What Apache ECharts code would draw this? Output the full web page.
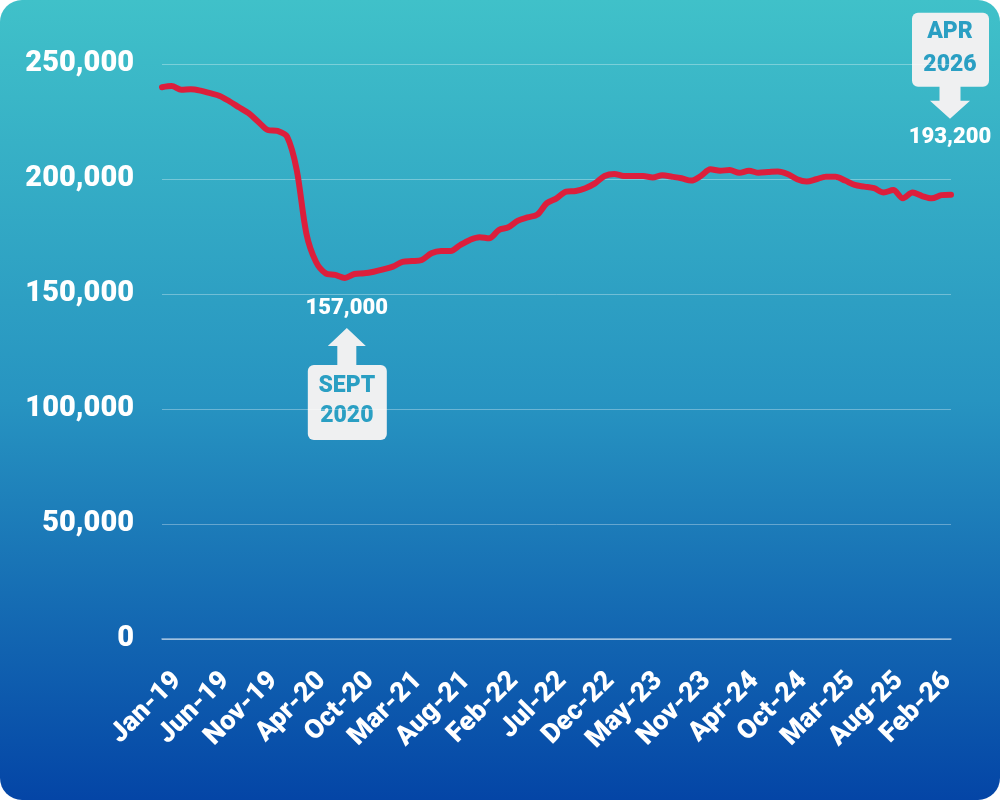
<!DOCTYPE html>
<html>
<head>
<meta charset="utf-8">
<script src="https://cdn.jsdelivr.net/npm/echarts@6/dist/echarts.min.js"></script>
<style>
  html, body { margin: 0; padding: 0; background: #fff; }
  #chart { width: 1000px; height: 800px; }
</style>
</head>
<body>
<div id="chart"></div>
<script>
// monthly series (a few months are absent from the source data)
var months = [
  'Jan-19','Feb-19','Mar-19','Apr-19','May-19','Jun-19','Jul-19','Aug-19','Sep-19','Oct-19',
  'Nov-19','Dec-19','Jan-20','Feb-20','Mar-20','Apr-20','May-20','Jul-20','Aug-20','Sep-20',
  'Oct-20','Nov-20','Dec-20','Jan-21','Feb-21','Mar-21','Apr-21','May-21','Jun-21','Jul-21',
  'Aug-21','Sep-21','Oct-21','Dec-21','Jan-22','Feb-22','Mar-22','Apr-22','May-22','Jun-22',
  'Jul-22','Aug-22','Sep-22','Oct-22','Nov-22','Dec-22','Jan-23','Feb-23','Mar-23','Apr-23',
  'May-23','Jun-23','Jul-23','Sep-23','Oct-23','Nov-23','Dec-23','Jan-24','Feb-24','Mar-24',
  'Apr-24','May-24','Jun-24','Aug-24','Sep-24','Oct-24','Nov-24','Dec-24','Jan-25','Feb-25',
  'Mar-25','Apr-25','May-25','Jun-25','Jul-25','Aug-25','Sep-25','Oct-25','Dec-25','Jan-26',
  'Feb-26','Mar-26','Apr-26'
];
var values = [
  239900, 240400, 238800, 239000, 238400, 237300, 236100, 233800, 231200, 228600,
  224900, 221300, 220900, 218400, 204000, 176400, 164000, 159000, 158300, 157000,
  158700, 159000, 159700, 160700, 161900, 164000, 164300, 164800, 167700, 168700,
  168700, 171300, 173500, 174700, 174200, 177800, 179000, 181900, 183300, 184500,
  189500, 191600, 194500, 194800, 196000, 198100, 201300, 202200, 201300, 201300,
  201300, 200700, 201600, 201000, 200300, 199300, 201300, 204200, 203600, 203900,
  202700, 203600, 202700, 203000, 203300, 202200, 199900, 198900, 199900, 201000,
  201000, 199300, 197400, 196700, 196000, 194100, 195200, 191600, 194100, 192600,
  191600, 193000, 193200
];
var labelEvery = 5;
var lowNote = ['SEPT', '2020'];
var lastNote = ['APR', '2026'];

var font = 'Roboto, "DejaVu Sans", sans-serif';
var weight = 900;
var noteFill = '#eff0f1';
var noteText = '#2a9fc3';

function fmt(v) {
  return String(v).replace(/\B(?=(\d{3})+(?!\d))/g, ',');
}

var chart = echarts.init(document.getElementById('chart'));

var option = {
  animation: false,
  backgroundColor: 'transparent',
  grid: { left: 162, right: 49, top: 64, bottom: 161 },
  xAxis: {
    type: 'category',
    data: months,
    boundaryGap: false,
    axisLine: { show: true, lineStyle: { color: 'rgba(255,255,255,0.55)', width: 1.5 } },
    axisTick: { show: false },
    axisLabel: {
      interval: 0,
      rotate: 45,
      margin: 22,
      verticalAlign: 'top',
      lineHeight: 44,
      color: '#fff',
      fontFamily: font,
      fontWeight: weight,
      fontSize: 27,
      formatter: function (v, i) { return i % labelEvery === 0 ? v : ''; }
    }
  },
  yAxis: {
    type: 'value',
    min: 0,
    max: 250000,
    interval: 50000,
    axisLine: { show: false },
    axisTick: { show: false },
    splitLine: { lineStyle: { color: 'rgba(255,255,255,0.32)', width: 1 } },
    axisLabel: {
      margin: 28,
      color: '#fff',
      fontFamily: font,
      fontWeight: weight,
      fontSize: 29,
      formatter: fmt
    }
  },
  graphic: [{
    type: 'rect',
    z: -10,
    silent: true,
    shape: { x: 0, y: 0, width: 1000, height: 800, r: 22 },
    style: {
      fill: new echarts.graphic.LinearGradient(0, 0, 0, 1, [
        { offset: 0, color: '#40c1c9' },
        { offset: 0.5, color: '#2794c1' },
        { offset: 1, color: '#0445a6' }
      ])
    }
  }],
  series: [{
    type: 'line',
    data: values,
    smooth: 0.3,
    showSymbol: false,
    lineStyle: { color: '#dc1f3c', width: 6, cap: 'round', join: 'round' }
  }]
};
chart.setOption(option);

// callouts tied to the data points
function textEl(x, y, str, color, size) {
  return {
    type: 'text', x: x, y: y,
    style: {
      text: str, fill: color, font: weight + ' ' + size + 'px ' + font,
      align: 'center', verticalAlign: 'middle'
    }
  };
}

var lowIdx = 19;
var lastIdx = values.length - 1;
var lowPt = chart.convertToPixel({ gridIndex: 0 }, [lowIdx, values[lowIdx]]);
var lastPt = chart.convertToPixel({ gridIndex: 0 }, [lastIdx, values[lastIdx]]);

// up arrow under the minimum
var upGroup = {
  type: 'group', x: lowPt[0] + 2, y: lowPt[1] + 50, z: 20,
  children: [
    { type: 'polygon', shape: { points: [[0, 0], [19, 18], [9.5, 18], [9.5, 40], [-9.5, 40], [-9.5, 18], [-19, 18]] }, style: { fill: noteFill } },
    { type: 'rect', shape: { x: -39, y: 37, width: 79, height: 75, r: 6 }, style: { fill: noteFill } },
    textEl(0, 58, lowNote[0], noteText, 23),
    textEl(0, 88, lowNote[1], noteText, 23),
    textEl(0, -19, fmt(values[lowIdx]), '#fff', 22)
  ]
};

// down arrow above the last value
var downGroup = {
  type: 'group', x: lastPt[0] - 1, y: lastPt[1] - 76, z: 20,
  children: [
    { type: 'polygon', shape: { points: [[0, 0], [20, -18], [10.5, -18], [10.5, -35], [-10.5, -35], [-10.5, -18], [-20, -18]] }, style: { fill: noteFill } },
    { type: 'rect', shape: { x: -38, y: -106, width: 77, height: 74, r: 6 }, style: { fill: noteFill } },
    textEl(0, -86, lastNote[0], noteText, 23),
    textEl(0, -53, lastNote[1], noteText, 23),
    textEl(0, 19, fmt(values[lastIdx]), '#fff', 22)
  ]
};

chart.setOption({ graphic: [option.graphic[0], upGroup, downGroup] });
</script>
</body>
</html>
